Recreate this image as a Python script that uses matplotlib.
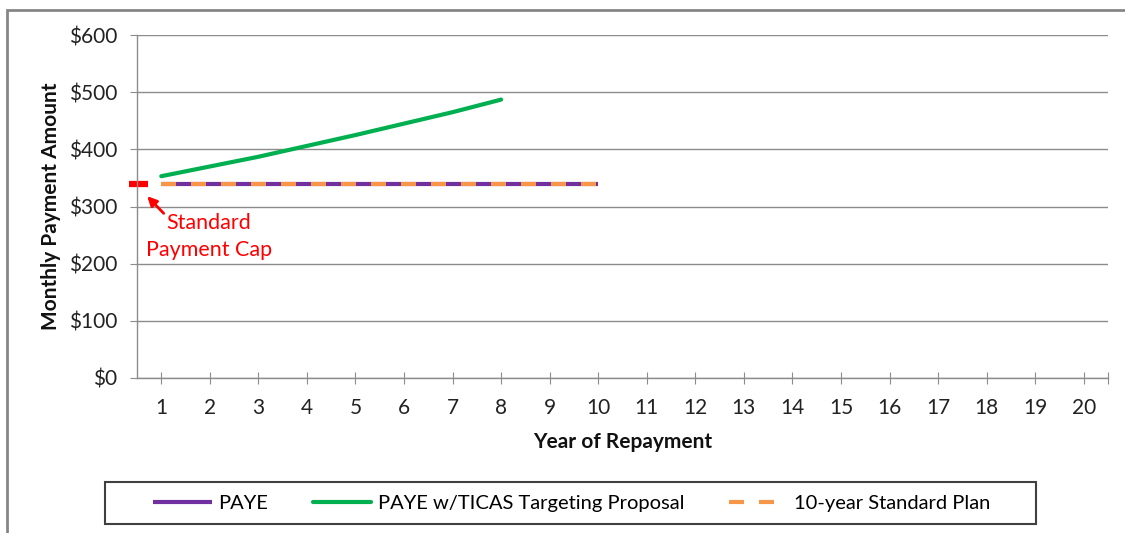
import matplotlib
matplotlib.use("Agg")
import matplotlib.pyplot as plt
from matplotlib.patches import Rectangle

plt.rcParams['font.family'] = ['Lato', 'DejaVu Sans']

# data
years = list(range(1, 21))
paye_years = [1, 2, 3, 4, 5, 6, 7, 8, 9, 10]
paye = [340, 340, 340, 340, 340, 340, 340, 340, 340, 340]
ticas_years = [1, 2, 3, 4, 5, 6, 7, 8]
ticas = [353, 370, 387, 406, 425, 445, 465, 487]
std_years = [1, 2, 3, 4, 5, 6, 7, 8, 9, 10]
std_plan = [340, 340, 340, 340, 340, 340, 340, 340, 340, 340]
cap_value = 340
y_ticks = [0, 100, 200, 300, 400, 500, 600]
y_labels = ["$0", "$100", "$200", "$300", "$400", "$500", "$600"]

fig = plt.figure(figsize=(11.25, 5.33), dpi=100)
ax = fig.add_axes([137 / 1125, 1 - 378 / 533, 971 / 1125, 343 / 533])

grid_col = "#8c8c8c"
fs = 15
ax.set_xlim(0.5, 20.5)
ax.set_ylim(0, 600)
ax.set_yticks(y_ticks)
ax.set_yticklabels(y_labels)
ax.set_xticks(years + [20.5])
ax.set_xticklabels([str(y) for y in years] + [""])
ax.yaxis.grid(True, color=grid_col, lw=1)
ax.set_axisbelow(True)
for s in ["top", "right"]:
    ax.spines[s].set_visible(False)
for s in ["left", "bottom"]:
    ax.spines[s].set_color(grid_col)
    ax.spines[s].set_linewidth(1)
ax.tick_params(axis="y", length=5, color=grid_col, pad=9, labelsize=fs, labelcolor="#222222")
ax.tick_params(axis="x", direction="inout", length=9, color=grid_col, pad=10, labelsize=fs, labelcolor="#222222")

ax.plot(paye_years, paye, color="#7030A0", lw=3, solid_capstyle="butt", label="PAYE")
ax.plot(ticas_years, ticas, color="#00B050", lw=3, solid_capstyle="round", label="PAYE w/TICAS Targeting Proposal")
ax.plot(std_years, std_plan, color="#F79646", lw=3, dashes=(3.6, 3.6), label="10-year Standard Plan")

# standard payment cap marker
ax.plot([0.33, 0.73], [cap_value, cap_value], color="red", lw=4.5, solid_capstyle="butt", clip_on=False)
ax.annotate("", xy=(0.71, 318), xytext=(1.05, 288),
            arrowprops=dict(arrowstyle="-|>", color="red", lw=2, mutation_scale=14, shrinkA=0, shrinkB=0),
            annotation_clip=False)
ax.text(1.98, 248, "Standard\nPayment Cap", color="red", ha="center", va="center",
        fontsize=fs + 0.5, linespacing=1.45)

ax.set_ylabel("Monthly Payment Amount", fontsize=fs, fontweight="bold", color="#111111")
ax.yaxis.set_label_coords(-0.078, 0.5)
ax.set_xlabel("Year of Repayment", fontsize=fs, fontweight="bold", color="#111111")
ax.xaxis.set_label_coords(0.5, -0.157)

# outer chart border
fig.patches.append(Rectangle((7 / 1125, -0.05), 1.1, 1 - 10 / 533 + 0.05, transform=fig.transFigure,
                             fill=False, edgecolor="#868686", lw=2))
# legend box
fig.patches.append(Rectangle((105 / 1125, 1 - 524 / 533), 931 / 1125, 42 / 533, transform=fig.transFigure,
                             fill=False, edgecolor="#404040", lw=1.5))
handles, labels = ax.get_legend_handles_labels()
fig.legend(handles, labels, loc="center", bbox_to_anchor=(572 / 1125, 1 - 503 / 533), ncol=3,
           frameon=False, fontsize=fs - 0.5, handlelength=2.9, handletextpad=0.35, columnspacing=2.2)

fig.savefig("out.png", dpi=100)
